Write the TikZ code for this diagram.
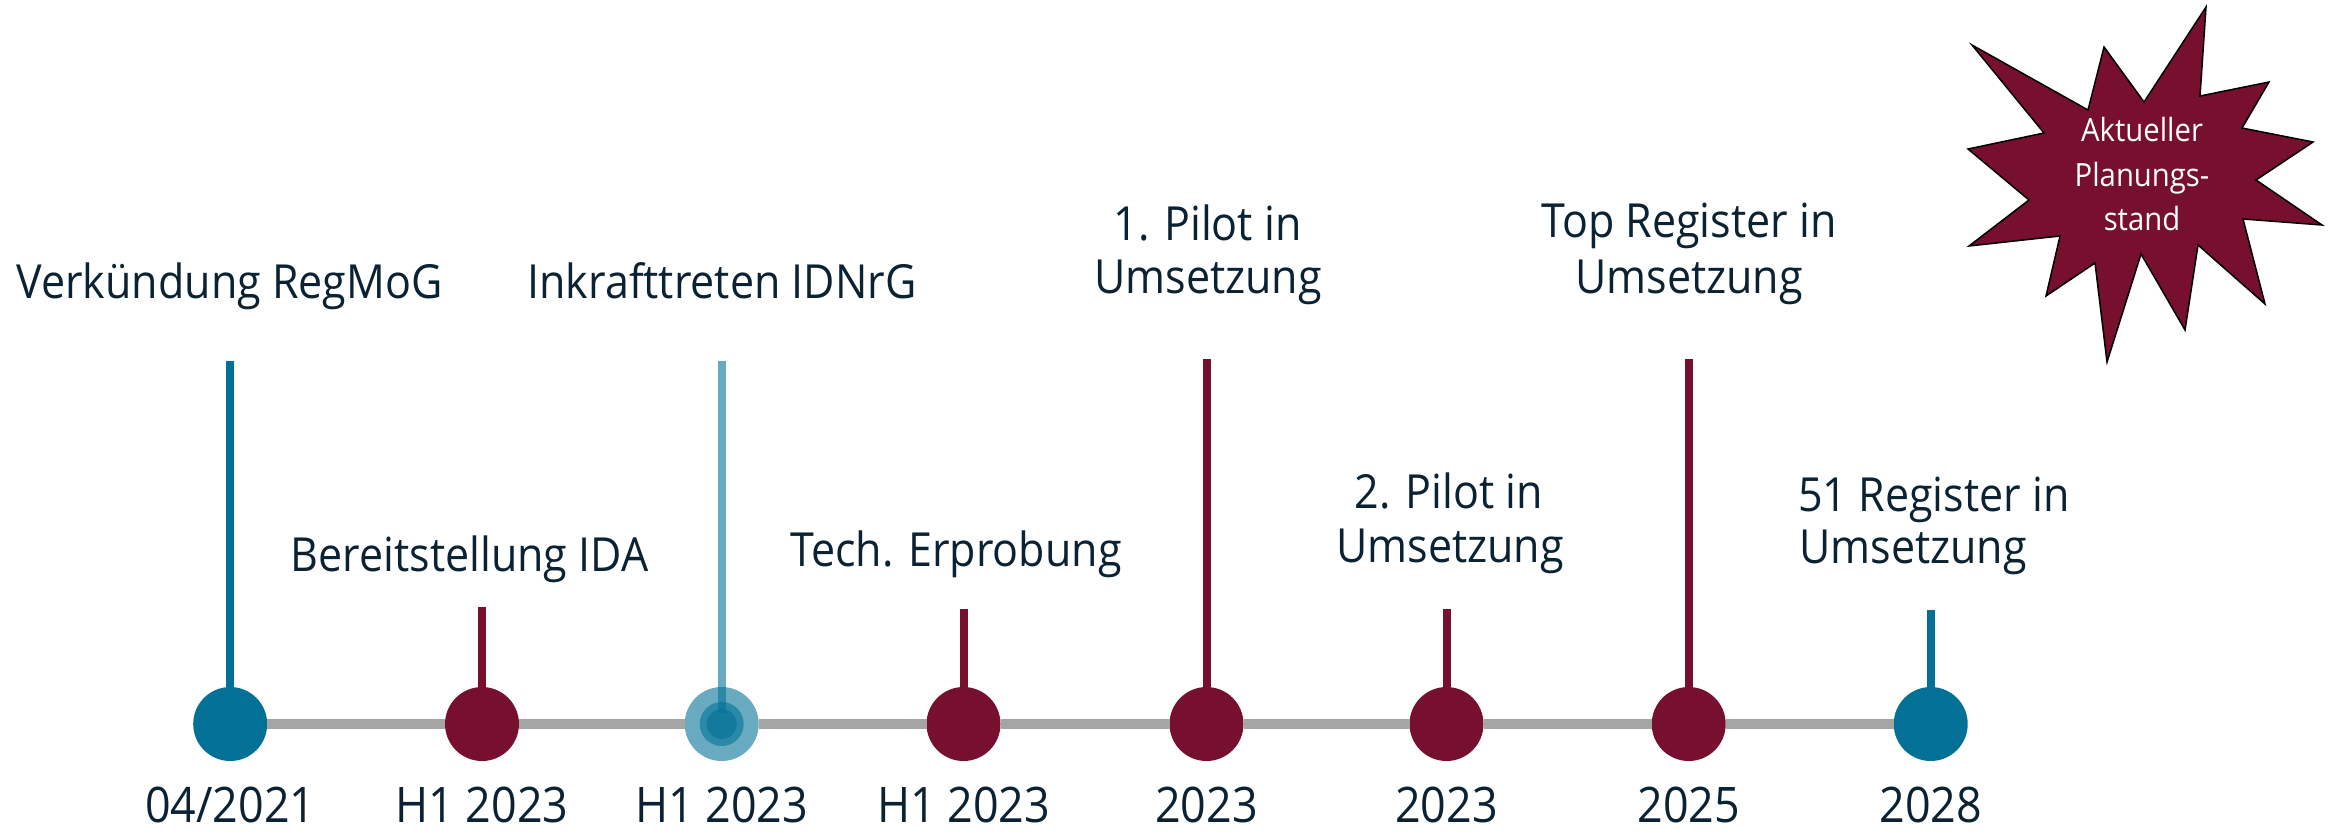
\documentclass[tikz,border=0pt]{standalone}
\usepackage{fontspec}
\setmainfont[FakeStretch=0.915]{Open Sans}
\definecolor{ink}{HTML}{0B2233}
\definecolor{petrol}{HTML}{037196}
\definecolor{wine}{HTML}{770F2E}
\definecolor{rail}{HTML}{A5A5A5}
\begin{document}
\begin{tikzpicture}[x=1pt,y=-1pt,
  railseg/.style={draw=rail,line width=10pt},
  stemline/.style={line width=8pt},
  dot/.style={circle,minimum size=74pt,inner sep=0pt,outer sep=0pt},
  lbl/.style={text=ink,font=\fontsize{47}{53}\selectfont,inner sep=0pt,anchor=base},
  datelbl/.style={text=ink,font=\fontsize{49}{55}\selectfont,inner sep=0pt,anchor=base},
  startxt/.style={text=white,font=\fontsize{32}{44.5}\selectfont,inner sep=0pt,anchor=base}
]
\useasboundingbox (0,0) rectangle (2333,833);

% stem tops
\coordinate (t1) at (230.2,361);
\coordinate (t2) at (482,607);
\coordinate (t3) at (721.7,361);
\coordinate (t4) at (963.5,609);
\coordinate (t5) at (1206.5,359);
\coordinate (t6) at (1446.5,609);
\coordinate (t7) at (1688.7,359);
\coordinate (t8) at (1930.7,610);
\coordinate (t3end) at (721.7,713);

% milestone dots
\node[dot,fill=petrol] (c1) at (230.2,724) {};
\node[dot,fill=wine]   (c2) at (482,724) {};
\node[dot,fill=petrol,fill opacity=0.6] (c3) at (721.7,724) {};
\node[dot,fill=wine]   (c4) at (963.5,724) {};
\node[dot,fill=wine]   (c5) at (1206.5,724) {};
\node[dot,fill=wine]   (c6) at (1446.5,724) {};
\node[dot,fill=wine]   (c7) at (1688.7,724) {};
\node[dot,fill=petrol] (c8) at (1930.7,724) {};

% inner rings of the translucent milestone
\fill[petrol,fill opacity=0.6] (c3.center) circle[radius=22];
\fill[petrol,fill opacity=0.6] (c3.center) circle[radius=15];

% timeline rail
\foreach \a/\b in {c1/c2,c2/c3,c3/c4,c4/c5,c5/c6,c6/c7,c7/c8}
  \draw[railseg] (\a) -- (\b);

% stems
\draw[stemline,petrol] (t1) -- (c1);
\draw[stemline,wine]   (t2) -- (c2);
\draw[stemline,petrol,draw opacity=0.6] (t3) -- (t3end);
\draw[stemline,wine]   (t4) -- (c4);
\draw[stemline,wine]   (t5) -- (c5);
\draw[stemline,wine]   (t6) -- (c6);
\draw[stemline,wine]   (t7) -- (c7);
\draw[stemline,petrol] (t8) -- (c8);

% event labels
\node[lbl] (l1) at (229.5,298) {Verkündung RegMoG};
\node[lbl] (l2) at (469.5,571) {Bereitstellung IDA};
\node[lbl] (l3) at (722,298) {Inkrafttreten IDNrG};
\node[lbl] (l4) at (956,566) {Tech. Erprobung};
\node[lbl] (l5a) at (1207.5,240) {1. Pilot in};
\node[lbl] (l5b) at (1208,293) {Umsetzung};
\node[lbl] (l6a) at (1449,508) {2. Pilot in};
\node[lbl] (l6b) at (1450,562) {Umsetzung};
\node[lbl] (l7a) at (1689,237) {Top Register in};
\node[lbl] (l7b) at (1689,293) {Umsetzung};
\node[lbl,anchor=base west] (l8a) at (1798,511) {51 Register in};
\node[lbl,anchor=base west] (l8b) at (1799,563) {Umsetzung};

% dates
\node[datelbl] (d1) at (230.2,822) {04/2021};
\node[datelbl] (d2) at (482,822) {H1 2023};
\node[datelbl] (d3) at (721.7,822) {H1 2023};
\node[datelbl] (d4) at (963.5,822) {H1 2023};
\node[datelbl] (d5) at (1206.5,822) {2023};
\node[datelbl] (d6) at (1446.5,822) {2023};
\node[datelbl] (d7) at (1688.7,822) {2025};
\node[datelbl] (d8) at (1930.7,822) {2028};

% planning-status burst
\filldraw[fill=wine,draw=black,line width=1.5pt,line join=miter]
  (2206,7) -- (2200,96) -- (2269,82) -- (2242,128) -- (2313,142) -- (2256,180)
  -- (2322,225) -- (2243,219) -- (2265,304) -- (2198,245) -- (2185,330)
  -- (2141,254) -- (2107,362) -- (2095,263) -- (2046,296) -- (2060,236)
  -- (1969,246) -- (2029,200) -- (1968,149) -- (2044,133) -- (1972,45)
  -- (2088,110) -- (2104,47) -- (2144,102) -- cycle;
\node[startxt] (s1) at (2142,141.7) {Aktueller};
\node[startxt] (s2) at (2142,186.7) {Planungs-};
\node[startxt] (s3) at (2142,230.7) {stand};
\end{tikzpicture}
\end{document}
